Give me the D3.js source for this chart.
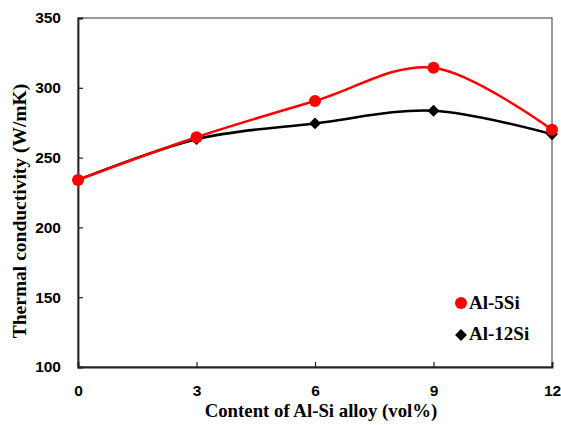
<!DOCTYPE html>
<html><head><meta charset="utf-8">
<script src="https://cdn.jsdelivr.net/npm/d3@7"></script>
<style>body{margin:0;background:#fff}</style>
</head><body>
<svg id="c" width="561" height="425"></svg>
<script>
const xValues = [0, 3, 6, 9, 12];
const al5Si = [234, 264.6, 290.5, 314.4, 270];
const al12Si = [234, 263.2, 274.5, 283.6, 266.7];
const xTicks = [0, 3, 6, 9, 12];
const yTicks = [100, 150, 200, 250, 300, 350];
const seriesNames = ["Al-5Si", "Al-12Si"];

const svg = d3.select("#c");
const L = 78, R = 552, T = 18, B = 367;
const x = d3.scaleLinear().domain([0, 12]).range([L, R]);
const y = d3.scaleLinear().domain([100, 350]).range([B, T]);

// box
svg.append("rect").attr("x", L).attr("y", T).attr("width", R - L).attr("height", B - T)
  .attr("fill", "none").attr("stroke", "#555").attr("stroke-width", 1.2);

// axes
const yAxis = d3.axisLeft(y).tickValues(yTicks).tickSize(-5).tickPadding(17);
const gy = svg.append("g").attr("transform", `translate(${L},0)`).call(yAxis);
const xAxis = d3.axisBottom(x).tickValues(xTicks).tickSize(-5).tickPadding(18);
const gx = svg.append("g").attr("transform", `translate(0,${B})`).call(xAxis);
[gx, gy].forEach(g => {
  g.select(".domain").attr("stroke", "#222").attr("stroke-width", 1.8);
  g.selectAll(".tick line").attr("stroke", "#222").attr("stroke-width", 1.2);
  g.selectAll(".tick text").attr("font-family", "Liberation Sans, Arial, sans-serif")
    .attr("font-weight", "bold").attr("font-size", 15.5).attr("fill", "#000");
});

const line = d3.line().x((d, i) => x(xValues[i])).y(d => y(d)).curve(d3.curveCatmullRom.alpha(0));

svg.append("path").datum(al12Si).attr("d", line).attr("fill", "none")
  .attr("stroke", "#000").attr("stroke-width", 2.5);
svg.append("path").datum(al5Si).attr("d", line).attr("fill", "none")
  .attr("stroke", "#ff0000").attr("stroke-width", 2.5);

const diamond = d3.symbol().type(d3.symbolDiamond2).size(90);
svg.selectAll(".d").data(al12Si).enter().append("path")
  .attr("d", diamond).attr("transform", (d, i) => `translate(${x(xValues[i])},${y(d)})`)
  .attr("fill", "#000");
svg.selectAll(".cir").data(al5Si).enter().append("circle")
  .attr("cx", (d, i) => x(xValues[i])).attr("cy", d => y(d)).attr("r", 6)
  .attr("fill", "#ff0000");

// legend
const serif = "Liberation Serif, Times New Roman, serif";
svg.append("circle").attr("cx", 461).attr("cy", 303).attr("r", 6).attr("fill", "#ff0000");
svg.append("path").attr("d", diamond).attr("transform", "translate(461,335)").attr("fill", "#000");
svg.append("text").attr("x", 469).attr("y", 309).text(seriesNames[0])
  .attr("font-family", serif).attr("font-weight", "bold").attr("font-size", 19);
svg.append("text").attr("x", 469).attr("y", 340).text(seriesNames[1])
  .attr("font-family", serif).attr("font-weight", "bold").attr("font-size", 19);

// titles
svg.append("text").attr("x", 321).attr("y", 417).attr("text-anchor", "middle")
  .attr("font-family", serif).attr("font-weight", "bold").attr("font-size", 18.8)
  .text("Content of Al-Si alloy (vol%)");
svg.append("text").attr("transform", "translate(26,211) rotate(-90)").attr("text-anchor", "middle")
  .attr("font-family", serif).attr("font-weight", "bold").attr("font-size", 19.5)
  .text("Thermal conductivity (W/mK)");
</script>
</body></html>
